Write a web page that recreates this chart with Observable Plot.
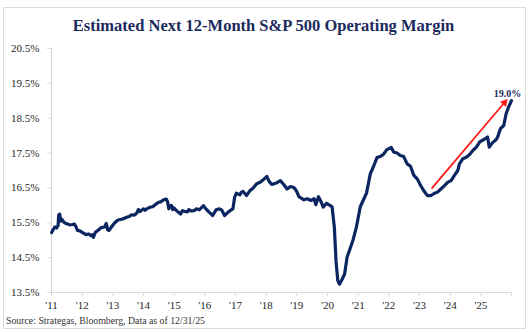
<!DOCTYPE html>
<html>
<head>
<meta charset="utf-8">
<script src="https://cdn.jsdelivr.net/npm/d3@7"></script>
<script src="https://cdn.jsdelivr.net/npm/@observablehq/plot@0.6"></script>
<style>
  body { margin: 0; background: #fff; }
  #wrap { position: relative; width: 532px; height: 332px; overflow: hidden; font-family: "Liberation Serif", serif; }
  #frame { position: absolute; left: 3px; top: 7px; width: 523px; height: 322px; border: 1.5px solid #dcdcdc; box-sizing: border-box; }
  #title { position: absolute; left: 0; width: 527px; top: 17.5px; text-align: center; font-weight: bold; font-size: 16.5px; line-height: 1; color: #1b2a5c; white-space: nowrap; }
  #chart { position: absolute; left: 0; top: 40px; }
  #source { position: absolute; left: 6px; top: 316.3px; font-size: 9.8px; line-height: 1; color: #333; white-space: nowrap; }
</style>
</head>
<body>
<div id="wrap">
  <div id="frame"></div>
  <div id="title">Estimated Next 12-Month S&amp;P 500 Operating Margin</div>
  <div id="chart"></div>
  <div id="source">Source: Strategas, Bloomberg, Data as of 12/31/25</div>
</div>
<script>
// ---- data ----
const dates = [
"2011-01-03","2011-01-20","2011-02-10","2011-03-01","2011-03-20","2011-03-28","2011-04-08","2011-04-20","2011-05-05","2011-05-28",
"2011-06-20","2011-07-08","2011-08-05","2011-09-06","2011-10-01","2011-10-17","2011-11-06","2011-12-05","2012-01-06","2012-02-15",
"2012-03-15","2012-04-16","2012-05-01","2012-05-14","2012-06-05","2012-07-05","2012-08-14","2012-09-24","2012-10-14","2012-11-01",
"2012-11-15","2012-12-13","2013-01-23","2013-03-04","2013-04-13","2013-05-10","2013-06-12","2013-07-15","2013-08-11","2013-09-10",
"2013-10-11","2013-11-01","2013-11-20","2013-12-31","2014-01-20","2014-02-09","2014-03-21","2014-04-20","2014-05-21","2014-06-30",
"2014-07-25","2014-08-29","2014-09-30","2014-10-15","2014-10-29","2014-11-15","2014-11-30","2014-12-15","2014-12-28","2015-01-29",
"2015-03-18","2015-04-10","2015-04-28","2015-06-07","2015-06-25","2015-07-17","2015-08-26","2015-09-25","2015-10-26","2015-12-17",
"2016-01-14","2016-02-24","2016-04-04","2016-05-14","2016-06-23","2016-07-22","2016-08-23","2016-10-02","2016-11-11","2016-12-01",
"2016-12-21","2017-01-11","2017-02-21","2017-03-10","2017-04-01","2017-05-12","2017-06-21","2017-07-31","2017-09-10","2017-10-21",
"2017-11-30","2018-01-09","2018-02-06","2018-03-10","2018-05-10","2018-06-19","2018-07-29","2018-09-07","2018-10-17","2018-11-26",
"2018-12-24","2019-01-26","2019-03-27","2019-05-06","2019-06-16","2019-07-26","2019-08-15","2019-09-16","2019-10-14","2019-11-11",
"2019-12-21","2020-01-31","2020-02-25","2020-03-23","2020-04-12","2020-05-03","2020-05-23","2020-06-24","2020-07-23","2020-08-22",
"2020-09-21","2020-10-31","2020-12-10","2021-01-26","2021-03-01","2021-04-10","2021-05-26","2021-06-30","2021-08-13","2021-09-19",
"2021-10-29","2021-12-08","2022-01-30","2022-02-27","2022-04-08","2022-05-18","2022-06-27","2022-08-07","2022-09-16","2022-10-26",
"2022-12-05","2023-01-15","2023-02-24","2023-04-05","2023-05-15","2023-06-24","2023-08-04","2023-09-13","2023-10-23","2023-12-02",
"2024-01-12","2024-02-21","2024-04-01","2024-04-21","2024-06-01","2024-07-11","2024-08-20","2024-09-30","2024-11-09","2024-12-19",
"2025-02-18","2025-03-22","2025-04-11","2025-05-21","2025-06-30","2025-07-20","2025-08-22","2025-10-01","2025-10-29","2025-11-27",
"2025-12-31"
];
const margins = [
15.22,15.30,15.38,15.35,15.42,15.72,15.75,15.55,15.60,15.52,
15.48,15.47,15.44,15.45,15.46,15.40,15.28,15.27,15.22,15.16,
15.18,15.13,15.16,15.08,15.22,15.28,15.36,15.38,15.48,15.30,
15.28,15.37,15.50,15.58,15.60,15.62,15.66,15.68,15.73,15.72,
15.77,15.88,15.82,15.90,15.86,15.90,15.95,15.96,16.02,16.09,
16.10,16.16,16.18,16.10,15.90,15.98,16.00,15.88,15.93,15.85,
15.75,15.85,15.83,15.81,15.88,15.84,15.85,15.90,15.87,15.99,
15.90,15.80,15.71,15.87,15.90,15.86,15.71,15.80,15.87,15.90,
16.23,16.35,16.30,16.37,16.40,16.28,16.42,16.50,16.62,16.66,
16.74,16.83,16.68,16.60,16.65,16.71,16.60,16.47,16.54,16.51,
16.43,16.25,16.16,16.19,16.14,16.19,16.02,16.25,16.12,15.95,
16.06,16.00,15.96,15.37,14.40,13.84,13.74,13.88,14.03,14.52,
14.72,15.00,15.37,15.96,16.14,16.35,16.91,17.10,17.37,17.40,
17.46,17.60,17.66,17.53,17.50,17.43,17.40,17.19,17.12,16.86,
16.76,16.57,16.41,16.28,16.28,16.34,16.38,16.47,16.56,16.66,
16.71,16.86,17.00,17.19,17.34,17.38,17.46,17.58,17.67,17.82,
17.91,17.96,17.67,17.80,17.88,17.96,18.20,18.29,18.63,18.82,
19.00
];
const yTicks = [13.5, 14.5, 15.5, 16.5, 17.5, 18.5, 19.5, 20.5];
const tickYears = [2011,2012,2013,2014,2015,2016,2017,2018,2019,2020,2021,2022,2023,2024,2025,2026];
const arrowFrom = {date: "2023-05-25", value: 16.48};
const arrowTo = {date: "2025-10-10", value: 18.95};

// ---- build ----
const data = dates.map((d, i) => ({date: new Date(d + "T00:00:00Z"), value: margins[i]}));
const last = data[data.length - 1];
const xTickDates = tickYears.map(y => new Date(Date.UTC(y, 0, 1)));
const arrow = [{x1: new Date(arrowFrom.date + "T00:00:00Z"), y1: arrowFrom.value,
                x2: new Date(arrowTo.date + "T00:00:00Z"), y2: arrowTo.value}];

const navy = "#0b2560";
const axisGray = "#d9d9d9";

const chart = Plot.plot({
  width: 532,
  height: 275,
  marginLeft: 51,
  marginRight: 21,
  marginTop: 8,
  marginBottom: 23,
  style: {fontFamily: "'Liberation Serif', serif", fontSize: "11px", color: "#262626", background: "transparent"},
  x: {type: "utc", domain: [xTickDates[0], xTickDates[xTickDates.length - 1]]},
  y: {domain: [yTicks[0], yTicks[yTicks.length - 1]]},
  marks: [
    Plot.ruleX([xTickDates[0]], {y1: yTicks[0], y2: yTicks[yTicks.length - 1], stroke: axisGray, strokeWidth: 1.2}),
    Plot.ruleY([yTicks[0]], {x1: xTickDates[0], x2: xTickDates[xTickDates.length - 1], stroke: axisGray, strokeWidth: 1.2}),
    Plot.axisY({ticks: yTicks, tickFormat: d => d.toFixed(1) + "%", tickSize: 4, tickPadding: 8, stroke: axisGray, fill: "#262626", label: null}),
    Plot.axisX({ticks: xTickDates, tickFormat: d => d.getUTCFullYear() < 2026 ? "'" + String(d.getUTCFullYear()).slice(2) : "", tickSize: 4, tickPadding: 5, stroke: axisGray, fill: "#262626", label: null}),
    Plot.lineY(data, {x: "date", y: "value", stroke: navy, strokeWidth: 3.2, strokeLinejoin: "round"}),
    Plot.link(arrow, {x1: "x1", y1: "y1", x2: "x2", y2: "y2", stroke: "#ff1a1a", strokeWidth: 1.8}),
    Plot.dot(arrow, {x: "x2", y: "y2", symbol: "triangle", r: 3, fill: "#ff1a1a", stroke: "none", rotate: 40}),
    Plot.text([last], {x: "date", y: "value", text: d => d.value.toFixed(1) + "%", dy: -7, dx: -4, fontWeight: "bold", fontSize: 10, fill: "#1b2a5c"})
  ]
});
document.getElementById("chart").appendChild(chart);
</script>
</body>
</html>
